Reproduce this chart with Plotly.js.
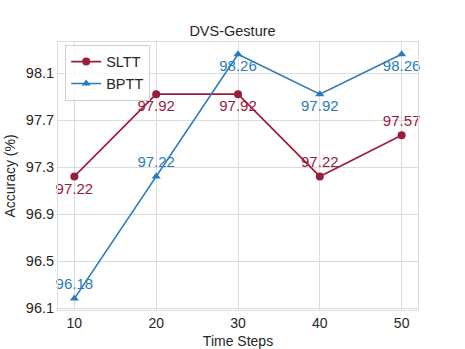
<!DOCTYPE html>
<html>
<head>
<meta charset="utf-8">
<script src="https://cdn.plot.ly/plotly-3.0.1.min.js"></script>
<style>
  html, body { margin: 0; padding: 0; background: #fff; }
  #chart { width: 465px; height: 349px; }
</style>
</head>
<body>
<div id="chart"></div>
<script>
// time steps and accuracy per method
const timeSteps = [10, 20, 30, 40, 50];
const slttAcc = [97.22, 97.92, 97.92, 97.22, 97.57];
const bpttAcc = [96.18, 97.22, 98.26, 97.92, 98.26];
const slttLabelPos = ['bottom center', 'bottom center', 'bottom center', 'top center', 'top center'];
const bpttLabelPos = ['top center', 'top center', 'bottom center', 'bottom center', 'bottom center'];
const yTicks = [96.1, 96.5, 96.9, 97.3, 97.7, 98.1];

const red = '#9b1b3a';
const blue = '#2a7bbb';
const fontFam = 'Arial, "Liberation Sans", sans-serif';

const sltt = {
    x: timeSteps,
    y: slttAcc,
    name: 'SLTT',
    type: 'scatter',
    mode: 'lines+markers+text',
    text: slttAcc.map(v => v.toFixed(2)),
    textposition: slttLabelPos,
    textfont: {color: red, size: 15, family: fontFam},
    line: {color: red, width: 1.6},
    marker: {color: red, size: 8, symbol: 'circle'},
    cliponaxis: false
};

const bptt = {
    x: timeSteps,
    y: bpttAcc,
    name: 'BPTT',
    type: 'scatter',
    mode: 'lines+markers+text',
    text: bpttAcc.map(v => v.toFixed(2)),
    textposition: bpttLabelPos,
    textfont: {color: blue, size: 15, family: fontFam},
    line: {color: blue, width: 1.6},
    marker: {color: blue, size: 8, symbol: 'triangle-up'},
    cliponaxis: false
};

const layout = {
    width: 465,
    height: 349,
    paper_bgcolor: '#fff',
    plot_bgcolor: '#fff',
    font: {family: fontFam, color: '#262626', size: 14},
    title: {text: 'DVS-Gesture', x: 0.5, xanchor: 'center', y: 0.91, yanchor: 'middle', font: {size: 14.5, color: '#262626'}},
    margin: {l: 58, r: 47, t: 42, b: 39},
    xaxis: {
        title: {text: 'Time Steps', font: {size: 14}, standoff: 6},
        range: [8, 52],
        tickvals: timeSteps,
        showgrid: true,
        gridcolor: '#dcdcdc',
        gridwidth: 1,
        zeroline: false,
        showline: true,
        mirror: true,
        linecolor: '#dcdcdc',
        linewidth: 1,
        ticks: '',
        tickfont: {size: 14}
    },
    yaxis: {
        title: {text: 'Accuracy (%)', font: {size: 14}, standoff: 6},
        range: [96.083, 98.364],
        tickvals: yTicks,
        ticktext: yTicks.map(v => v.toFixed(1)),
        showgrid: true,
        gridcolor: '#dcdcdc',
        gridwidth: 1,
        zeroline: false,
        showline: true,
        mirror: true,
        linecolor: '#dcdcdc',
        linewidth: 1,
        ticks: '',
        tickfont: {size: 14.5}
    },
    showlegend: true,
    legend: {
        x: 0.02, y: 0.99, xanchor: 'left', yanchor: 'top',
        bgcolor: 'rgba(255,255,255,0.8)',
        bordercolor: '#d0d0d0',
        borderwidth: 1,
        font: {size: 14.5}
    }
};

Plotly.newPlot('chart', [sltt, bptt], layout, {displayModeBar: false, staticPlot: true});
</script>
</body>
</html>
